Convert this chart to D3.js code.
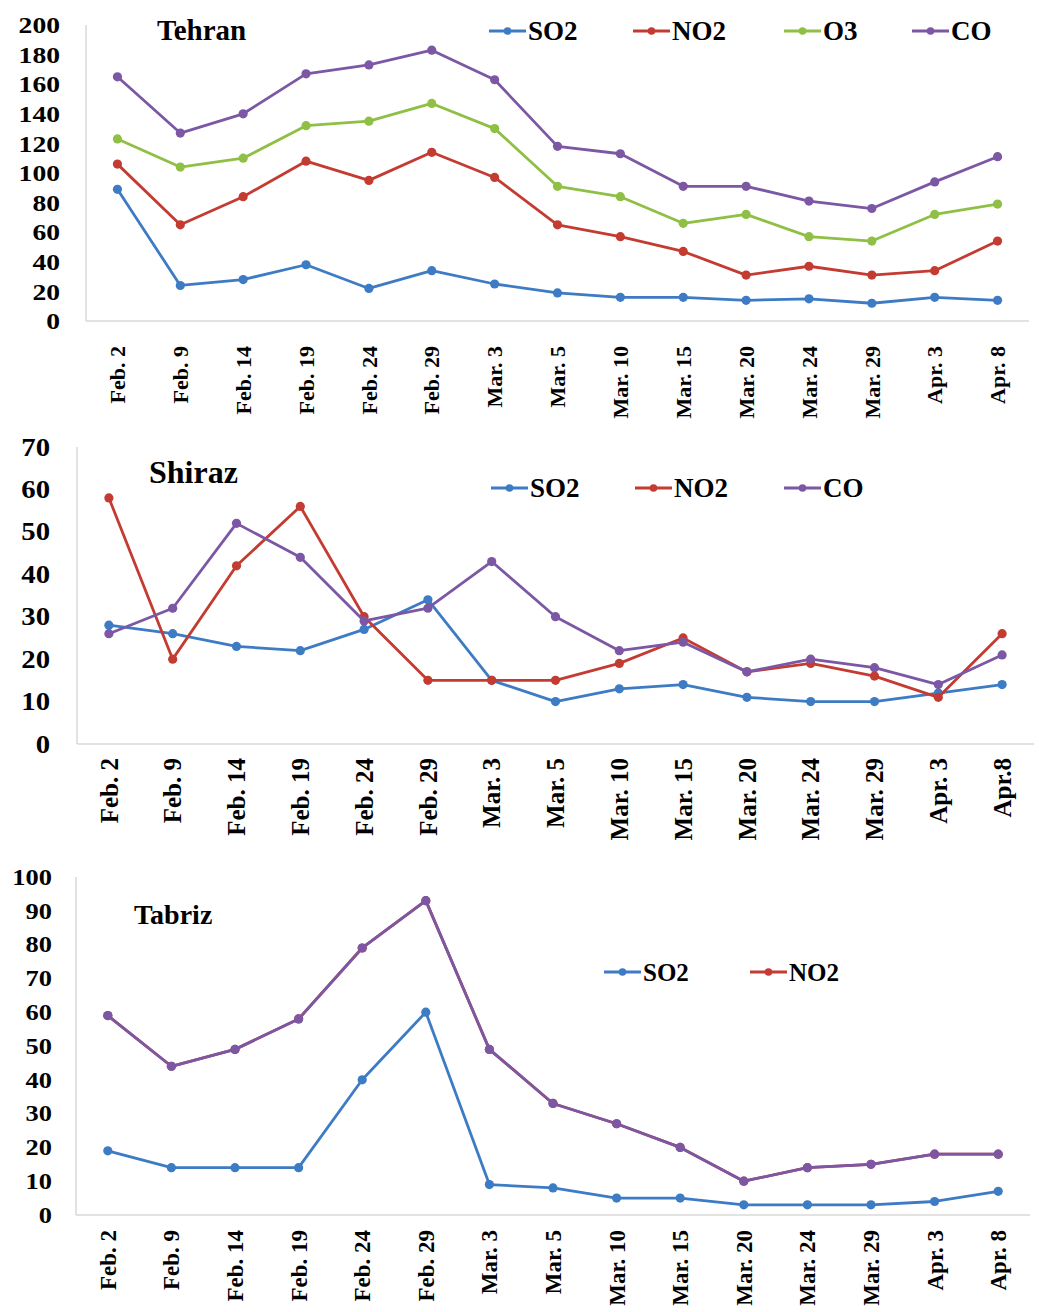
<!DOCTYPE html>
<html>
  <head>
    <meta charset="utf-8" />
    <style>
      body { margin: 0; background: #fff; }
      svg text { font-family: "Liberation Serif", "Times New Roman", serif !important; font-weight: bold; fill: #000; }
    </style>
  </head>
  <body>

<svg id="chart"></svg>

<script src="https://d3js.org/d3.v7.min.js"></script>
<script>
  const WIDTH = 1039;
  const HEIGHT = 1312;

  // categories
  const DATES = ['Feb. 2', 'Feb. 9', 'Feb. 14', 'Feb. 19', 'Feb. 24', 'Feb. 29', 'Mar. 3', 'Mar. 5',
                 'Mar. 10', 'Mar. 15', 'Mar. 20', 'Mar. 24', 'Mar. 29', 'Apr. 3', 'Apr. 8'];
  const DATES_SHIRAZ = ['Feb. 2', 'Feb. 9', 'Feb. 14', 'Feb. 19', 'Feb. 24', 'Feb. 29', 'Mar. 3', 'Mar. 5',
                 'Mar. 10', 'Mar. 15', 'Mar. 20', 'Mar. 24', 'Mar. 29', 'Apr. 3', 'Apr.8'];

  // Tehran
  const TEHRAN_SO2 = [89, 24, 28, 38, 22, 34, 25, 19, 16, 16, 14, 15, 12, 16, 14];
  const TEHRAN_NO2 = [106, 65, 84, 108, 95, 114, 97, 65, 57, 47, 31, 37, 31, 34, 54];
  const TEHRAN_O3  = [123, 104, 110, 132, 135, 147, 130, 91, 84, 66, 72, 57, 54, 72, 79];
  const TEHRAN_CO  = [165, 127, 140, 167, 173, 183, 163, 118, 113, 91, 91, 81, 76, 94, 111];
  const TEHRAN_TICKS = [0, 20, 40, 60, 80, 100, 120, 140, 160, 180, 200];

  // Shiraz
  const SHIRAZ_SO2 = [28, 26, 23, 22, 27, 34, 15, 10, 13, 14, 11, 10, 10, 12, 14];
  const SHIRAZ_NO2 = [58, 20, 42, 56, 30, 15, 15, 15, 19, 25, 17, 19, 16, 11, 26];
  const SHIRAZ_CO  = [26, 32, 52, 44, 29, 32, 43, 30, 22, 24, 17, 20, 18, 14, 21];
  const SHIRAZ_TICKS = [0, 10, 20, 30, 40, 50, 60, 70];

  // Tabriz (NO2 drawn under the CO line, same readings)
  const TABRIZ_SO2 = [19, 14, 14, 14, 40, 60, 9, 8, 5, 5, 3, 3, 3, 4, 7];
  const TABRIZ_NO2 = [59, 44, 49, 58, 79, 93, 49, 33, 27, 20, 10, 14, 15, 18, 18];
  const TABRIZ_CO  = [59, 44, 49, 58, 79, 93, 49, 33, 27, 20, 10, 14, 15, 18, 18];
  const TABRIZ_TICKS = [0, 10, 20, 30, 40, 50, 60, 70, 80, 90, 100];

  const COLORS = { SO2: '#3d7bc4', NO2: '#c43b32', O3: '#8fbf45', CO: '#7b57a4' };

  const svg = d3.select('#chart').attr('width', WIDTH).attr('height', HEIGHT);

  function drawPanel(p) {
    const x = d3.scaleBand().domain(p.dates).range([p.left, p.right]);
    const y = d3.scaleLinear().domain([0, d3.max(p.ticks)]).range([p.bottom, p.top]);
    const cx = (d, i) => x(p.dates[i]) + x.bandwidth() / 2;

    // frame (left + bottom)
    svg.append('line').attr('x1', p.left).attr('x2', p.left).attr('y1', p.top).attr('y2', p.bottom)
      .attr('stroke', '#d9d9d9').attr('stroke-width', 1.5);
    svg.append('line').attr('x1', p.left).attr('x2', p.right).attr('y1', p.bottom).attr('y2', p.bottom)
      .attr('stroke', '#d9d9d9').attr('stroke-width', 1.5);

    // y axis
    const ya = svg.append('g').attr('transform', `translate(${p.left},0)`)
      .call(d3.axisLeft(y).tickValues(p.ticks).tickSize(0).tickPadding(p.yPad).tickFormat(d3.format('d')));
    ya.select('.domain').remove();
    ya.attr('font-family', null);
    ya.selectAll('text').attr('font-size', p.yFont)
      .attr('transform', 'scale(1.15,1)').attr('x', -p.yPad / 1.15);

    // x axis, rotated labels
    const xa = svg.append('g').attr('transform', `translate(0,${p.bottom})`)
      .call(d3.axisBottom(x).tickSize(0));
    xa.select('.domain').remove();
    xa.attr('font-family', null);
    xa.selectAll('text')
      .attr('font-size', p.xFont)
      .attr('transform', 'rotate(-90)')
      .attr('text-anchor', 'end')
      .attr('x', -p.xPad).attr('y', 0).attr('dy', '0.35em');

    // title
    svg.append('text').attr('x', p.titleX).attr('y', p.titleY)
      .attr('font-size', p.titleFont).text(p.title);

    // series
    const line = d3.line().x(cx).y(d => y(d));
    p.series.forEach(s => {
      svg.append('path').datum(s.values)
        .attr('fill', 'none').attr('stroke', COLORS[s.name]).attr('stroke-width', 2.8)
        .attr('stroke-linejoin', 'round').attr('d', line);
      svg.append('g').selectAll('circle').data(s.values).enter().append('circle')
        .attr('cx', cx).attr('cy', d => y(d)).attr('r', 4.6).attr('fill', COLORS[s.name]);
    });

    // legend
    p.legend.forEach(l => {
      svg.append('line').attr('x1', l.x).attr('x2', l.x + 37).attr('y1', p.legendY).attr('y2', p.legendY)
        .attr('stroke', COLORS[l.name]).attr('stroke-width', 2.8);
      svg.append('circle').attr('cx', l.x + 18.5).attr('cy', p.legendY).attr('r', 3.8).attr('fill', COLORS[l.name]);
      svg.append('text').attr('x', l.x + 39).attr('y', p.legendY).attr('dy', '0.35em')
        .attr('font-size', p.legendFont).text(l.name);
    });
  }

  drawPanel({
    title: 'Tehran', titleX: 157, titleY: 40, titleFont: 29,
    dates: DATES, ticks: TEHRAN_TICKS,
    left: 86, right: 1029, top: 25, bottom: 321,
    yPad: 26, yFont: 24, xPad: 25, xFont: 22,
    series: [
      { name: 'SO2', values: TEHRAN_SO2 },
      { name: 'NO2', values: TEHRAN_NO2 },
      { name: 'O3', values: TEHRAN_O3 },
      { name: 'CO', values: TEHRAN_CO }
    ],
    legendY: 31, legendFont: 27,
    legend: [{ name: 'SO2', x: 489 }, { name: 'NO2', x: 633 }, { name: 'O3', x: 784 }, { name: 'CO', x: 912 }]
  });

  drawPanel({
    title: 'Shiraz', titleX: 149, titleY: 483, titleFont: 32,
    dates: DATES_SHIRAZ, ticks: SHIRAZ_TICKS,
    left: 77, right: 1034, top: 447, bottom: 744,
    yPad: 27, yFont: 25, xPad: 14, xFont: 25,
    series: [
      { name: 'SO2', values: SHIRAZ_SO2 },
      { name: 'NO2', values: SHIRAZ_NO2 },
      { name: 'CO', values: SHIRAZ_CO }
    ],
    legendY: 488, legendFont: 27,
    legend: [{ name: 'SO2', x: 491 }, { name: 'NO2', x: 635 }, { name: 'CO', x: 784 }]
  });

  drawPanel({
    title: 'Tabriz', titleX: 134, titleY: 924, titleFont: 28,
    dates: DATES, ticks: TABRIZ_TICKS,
    left: 76, right: 1030, top: 877, bottom: 1215,
    yPad: 24, yFont: 23, xPad: 15, xFont: 23,
    series: [
      { name: 'SO2', values: TABRIZ_SO2 },
      { name: 'NO2', values: TABRIZ_NO2 },
      { name: 'CO', values: TABRIZ_CO }
    ],
    legendY: 972, legendFont: 25,
    legend: [{ name: 'SO2', x: 604 }, { name: 'NO2', x: 750 }]
  });
</script>
  </body>
</html>
